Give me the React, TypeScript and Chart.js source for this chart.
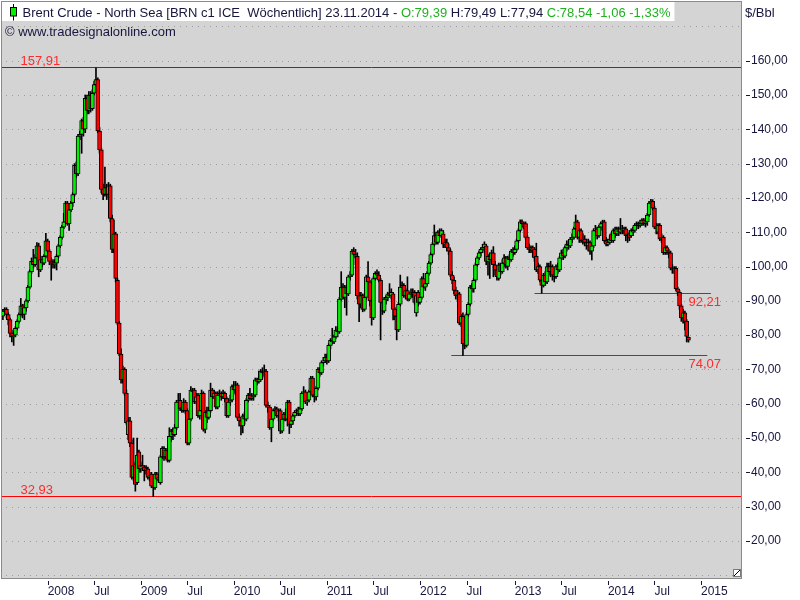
import React, { useEffect, useRef } from 'react';
import { Chart, registerables } from 'chart.js';

Chart.register(...registerables);

// ---------------- data ----------------
const instrument = 'Brent Crude - North Sea [BRN c1 ICE  Wöchentlich]';
const asOfDate = '23.11.2014';
const unitLabel = '$/Bbl';
const sourceLabel = '© www.tradesignalonline.com';

// weekly bars, first bar = week of 09.07.2007
const opens = [
  85.5, 87.0, 87.5, 86.0, 84.5, 80.5, 79.5, 80.0, 82.0, 84.0,
  86.0, 88.5, 86.0, 88.0, 90.0, 94.0, 98.5, 101.5, 100.5, 102.5,
  106.0, 99.0, 102.0, 101.0, 103.0, 107.5, 104.5, 101.5, 101.0, 100.5,
  101.0, 103.0, 106.0, 108.5, 111.5, 113.0, 118.5, 112.5, 116.5, 118.5,
  121.0, 129.5, 127.0, 138.0, 138.5, 142.5, 140.0, 149.0, 145.5, 150.0,
  146.0, 150.5, 153.0, 154.5, 139.5, 134.0, 122.5, 121.0, 123.0, 121.0,
  123.5, 114.0, 105.0, 109.5, 96.0, 83.5, 74.5, 67.0, 70.0, 63.0,
  51.0, 55.0, 48.5, 38.5, 42.5, 37.0, 46.0, 41.0, 42.0, 41.5,
  40.5, 41.0, 38.5, 39.5, 36.0, 35.5, 39.5, 38.0, 37.0, 44.5,
  47.0, 44.5, 46.5, 43.5, 50.5, 52.0, 51.0, 53.0, 60.5, 61.0,
  58.5, 58.0, 60.5, 58.0, 48.5, 55.5, 64.0, 64.0, 60.5, 62.5,
  56.5, 58.0, 63.0, 52.5, 57.5, 56.0, 58.0, 64.0, 62.0, 63.0,
  59.0, 62.5, 63.0, 62.0, 63.0, 61.5, 56.5, 60.5, 61.0, 65.0,
  64.0, 65.5, 56.0, 55.0, 53.5, 56.5, 55.5, 61.0, 62.5, 61.5,
  62.0, 62.5, 67.0, 66.5, 67.0, 69.5, 69.0, 69.5, 59.5, 59.0,
  53.0, 55.5, 58.0, 58.5, 56.5, 58.0, 52.0, 55.5, 57.0, 55.5,
  60.5, 54.0, 55.0, 56.5, 57.5, 58.0, 57.0, 58.5, 63.0, 63.5,
  60.5, 61.0, 63.5, 67.5, 62.5, 62.0, 64.5, 70.0, 69.0, 72.0,
  72.5, 73.5, 72.5, 77.0, 78.5, 78.0, 79.5, 81.5, 81.0, 90.5,
  94.0, 91.0, 94.0, 92.0, 97.0, 97.5, 104.5, 103.5, 103.0, 91.5,
  89.0, 91.5, 87.5, 91.0, 97.0, 95.5, 90.0, 85.0, 96.5, 98.0,
  97.5, 96.0, 89.5, 87.0, 90.5, 91.0, 92.0, 91.5, 92.0, 87.5,
  85.5, 81.5, 89.0, 94.0, 94.5, 91.5, 93.0, 90.5, 92.0, 92.5,
  92.5, 86.5, 92.5, 89.5, 91.0, 96.5, 94.0, 95.0, 98.0, 101.0,
  103.5, 106.5, 109.0, 107.0, 110.0, 109.0, 109.5, 106.5, 107.0, 105.5,
  104.5, 97.5, 96.0, 93.0, 91.5, 92.0, 83.5, 85.5, 77.5, 77.0,
  86.0, 89.0, 94.0, 93.5, 96.0, 100.5, 102.5, 104.0, 105.0, 105.5,
  106.0, 101.5, 103.0, 102.0, 104.0, 100.5, 99.0, 96.5, 100.5, 98.5,
  101.0, 102.5, 100.0, 102.5, 102.0, 104.5, 104.0, 105.0, 107.5, 110.5,
  113.0, 112.5, 112.5, 108.5, 105.5, 105.0, 105.5, 105.0, 103.0, 99.0,
  100.0, 96.0, 94.5, 97.5, 95.5, 100.0, 98.5, 100.0, 97.5, 97.0,
  100.0, 99.0, 102.5, 104.0, 103.0, 105.5, 106.5, 106.0, 108.0, 108.5,
  111.0, 113.0, 108.5, 110.5, 107.5, 108.0, 107.0, 106.0, 107.0, 104.5,
  106.0, 110.5, 111.0, 109.0, 111.5, 112.5, 113.0, 107.5, 106.5, 107.0,
  109.5, 107.5, 110.5, 109.5, 111.0, 110.0, 111.0, 110.5, 111.0, 109.0,
  109.5, 109.0, 110.5, 110.5, 112.0, 112.5, 112.0, 112.5, 113.5, 112.5,
  113.0, 115.0, 118.5, 119.0, 117.0, 111.5, 110.0, 112.0, 108.0, 108.5,
  104.0, 105.5, 104.5, 104.0, 99.5, 99.0, 99.5, 93.5, 92.5, 88.5,
  85.0, 86.5, 84.0, 79.39,
];
const highs = [
  87.5, 88.0, 88.0, 86.5, 85.0, 81.5, 81.0, 82.5, 84.5, 86.5,
  90.7, 89.0, 89.0, 90.5, 94.5, 99.0, 102.5, 105.0, 103.5, 107.0,
  106.8, 103.0, 103.0, 103.5, 109.7, 108.0, 105.0, 102.5, 102.0, 102.0,
  103.5, 106.5, 109.0, 112.0, 115.5, 119.0, 119.0, 117.0, 119.0, 121.5,
  130.0, 130.5, 138.5, 139.5, 143.0, 143.5, 150.0, 150.0, 151.0, 151.0,
  151.5, 154.0, 157.91, 155.0, 140.5, 134.5, 124.0, 129.0, 124.0, 124.5,
  124.0, 115.0, 113.5, 110.0, 96.5, 84.0, 76.0, 71.0, 70.5, 64.0,
  56.0, 56.0, 49.5, 50.0, 43.0, 50.0, 46.5, 43.0, 45.0, 42.0,
  42.0, 41.5, 40.0, 40.0, 37.5, 40.0, 40.0, 39.5, 45.0, 47.5,
  47.5, 47.0, 47.0, 53.0, 52.5, 53.0, 54.0, 61.0, 63.0, 63.0,
  60.0, 61.5, 61.0, 58.5, 56.5, 65.0, 64.5, 64.5, 63.0, 63.0,
  59.0, 64.0, 63.5, 58.0, 59.0, 59.0, 66.0, 64.5, 64.0, 63.5,
  63.5, 64.0, 63.5, 64.0, 63.5, 62.0, 61.5, 62.5, 65.5, 66.5,
  66.5, 66.0, 57.0, 56.0, 57.0, 57.5, 61.5, 63.0, 64.5, 63.0,
  63.0, 67.5, 67.5, 69.5, 70.0, 70.5, 71.3, 70.0, 60.5, 59.5,
  56.0, 58.5, 59.2, 59.0, 58.5, 58.5, 56.0, 57.5, 58.5, 61.0,
  61.0, 56.0, 57.0, 58.0, 58.5, 59.0, 59.0, 63.5, 65.0, 64.0,
  62.5, 64.0, 68.0, 68.0, 64.0, 65.0, 70.5, 70.5, 72.5, 73.5,
  74.5, 74.5, 77.5, 79.0, 82.0, 80.0, 82.5, 82.5, 91.0, 98.5,
  95.0, 94.5, 94.5, 97.5, 98.5, 105.0, 105.5, 105.0, 104.0, 92.5,
  92.5, 92.0, 92.0, 97.5, 101.4, 96.0, 91.0, 97.0, 98.5, 99.0,
  98.5, 96.5, 90.0, 91.0, 91.5, 92.5, 95.0, 93.5, 92.5, 88.0,
  86.0, 89.5, 97.5, 95.5, 95.0, 93.5, 97.0, 92.5, 93.5, 93.5,
  93.0, 92.0, 93.0, 92.0, 97.0, 98.0, 95.5, 98.5, 101.5, 104.0,
  107.0, 112.1, 110.0, 110.5, 111.0, 111.0, 110.5, 108.0, 108.0, 106.5,
  105.0, 98.5, 97.0, 94.0, 93.0, 92.5, 86.0, 86.5, 78.5, 86.5,
  89.5, 94.5, 95.0, 96.5, 101.0, 103.0, 104.5, 105.5, 106.5, 107.2,
  106.5, 103.5, 104.0, 104.8, 105.8, 101.5, 100.0, 101.0, 101.0, 102.0,
  103.5, 103.0, 103.0, 103.5, 105.0, 105.5, 106.0, 108.0, 111.0, 113.6,
  113.6, 113.0, 113.0, 109.0, 106.5, 106.0, 106.0, 105.5, 106.8, 101.0,
  100.5, 97.0, 98.0, 98.5, 101.0, 101.0, 101.5, 100.5, 99.5, 100.5,
  101.0, 103.0, 104.8, 105.0, 106.0, 107.5, 107.5, 108.5, 109.5, 111.5,
  115.0, 113.5, 111.0, 111.0, 109.5, 109.0, 108.0, 108.0, 107.5, 106.5,
  111.0, 112.0, 111.5, 112.0, 113.0, 113.5, 113.5, 108.5, 108.0, 109.0,
  110.0, 111.0, 111.5, 111.5, 111.5, 114.0, 112.0, 111.5, 111.5, 110.0,
  110.5, 111.0, 111.5, 112.5, 113.0, 113.0, 113.5, 114.0, 114.0, 114.0,
  115.5, 119.0, 119.6, 119.5, 117.5, 112.5, 112.5, 112.5, 109.5, 109.0,
  106.0, 106.0, 105.0, 104.5, 100.5, 100.0, 100.0, 94.0, 93.0, 89.0,
  87.5, 87.0, 84.5, 79.49,
];
const lows = [
  84.5, 86.0, 85.0, 83.0, 79.5, 78.0, 77.0, 79.5, 81.5, 83.5,
  85.5, 85.0, 84.5, 87.0, 89.5, 93.5, 98.0, 99.5, 100.0, 102.0,
  97.0, 98.5, 100.0, 100.5, 102.5, 103.5, 100.5, 96.0, 99.5, 99.5,
  99.0, 102.5, 105.5, 108.0, 111.0, 112.5, 112.0, 110.5, 116.0, 117.5,
  120.5, 126.0, 126.5, 137.0, 133.0, 138.0, 139.0, 144.5, 144.5, 145.0,
  145.5, 150.0, 151.5, 139.0, 133.0, 121.5, 119.5, 120.5, 119.5, 120.0,
  113.0, 104.0, 104.0, 95.5, 83.0, 74.0, 66.0, 66.0, 62.5, 54.0,
  49.5, 47.5, 38.0, 37.5, 34.5, 36.5, 40.0, 40.0, 40.5, 37.5,
  39.5, 38.0, 37.5, 35.5, 32.93, 35.0, 37.5, 37.0, 36.5, 44.0,
  43.5, 44.0, 43.0, 43.0, 49.0, 49.5, 50.5, 52.5, 59.0, 58.0,
  57.5, 57.5, 57.0, 48.0, 48.0, 55.0, 62.0, 60.0, 60.0, 56.0,
  55.5, 57.5, 52.0, 51.5, 54.5, 55.5, 57.5, 61.5, 61.5, 58.5,
  58.5, 62.0, 61.0, 61.5, 60.5, 56.0, 56.0, 59.5, 60.5, 63.0,
  62.5, 55.5, 53.5, 50.9, 51.5, 54.0, 55.0, 60.5, 61.0, 61.0,
  61.0, 62.0, 65.5, 66.0, 66.5, 67.5, 68.0, 59.0, 57.5, 52.5,
  48.9, 55.0, 57.0, 56.0, 55.0, 51.3, 51.5, 55.0, 55.0, 53.5,
  51.3, 53.0, 54.0, 56.0, 56.5, 56.5, 56.5, 58.0, 62.0, 60.0,
  59.5, 60.5, 62.5, 62.0, 60.5, 61.0, 64.0, 68.0, 68.5, 71.0,
  72.0, 71.5, 72.0, 76.0, 77.5, 77.5, 79.0, 79.5, 80.5, 90.0,
  90.5, 88.0, 85.8, 91.5, 96.0, 97.0, 102.5, 100.5, 90.5, 83.9,
  88.0, 86.8, 87.0, 90.5, 95.0, 88.5, 82.9, 84.5, 96.0, 96.5,
  95.5, 78.6, 86.0, 86.5, 89.0, 90.0, 91.0, 90.5, 84.4, 84.5,
  78.6, 81.0, 88.5, 93.0, 91.0, 90.5, 90.0, 90.0, 91.0, 91.0,
  89.0, 85.5, 88.5, 89.0, 90.5, 93.5, 93.0, 94.5, 97.5, 100.5,
  103.0, 106.0, 106.5, 106.5, 108.5, 108.5, 105.5, 105.5, 104.5, 103.5,
  97.0, 95.0, 92.0, 90.5, 90.0, 83.0, 82.5, 74.07, 76.0, 76.5,
  85.5, 88.5, 92.5, 92.5, 95.5, 100.0, 102.0, 103.0, 104.0, 104.5,
  100.5, 97.5, 96.5, 101.0, 97.0, 97.5, 96.0, 96.0, 97.5, 98.0,
  100.0, 99.5, 99.0, 101.0, 101.5, 103.0, 103.5, 104.5, 107.0, 110.0,
  111.5, 111.0, 108.0, 105.0, 104.0, 104.0, 102.8, 101.5, 98.5, 98.0,
  95.5, 92.21, 94.0, 94.5, 95.0, 97.5, 97.0, 96.0, 95.5, 96.5,
  98.0, 98.5, 102.0, 102.0, 102.5, 104.5, 105.0, 105.5, 107.0, 108.0,
  110.5, 108.0, 107.0, 107.0, 106.5, 106.0, 105.0, 104.5, 103.5, 101.9,
  105.5, 109.5, 108.0, 108.5, 110.5, 109.0, 107.0, 106.0, 106.0, 106.5,
  107.0, 107.0, 108.5, 109.0, 109.0, 109.5, 109.5, 109.5, 107.5, 107.0,
  107.5, 108.5, 109.0, 110.0, 111.0, 111.0, 111.5, 112.0, 112.0, 111.5,
  112.0, 114.5, 117.5, 116.5, 111.0, 109.5, 109.5, 107.5, 107.0, 103.5,
  103.5, 103.5, 102.5, 99.0, 98.0, 98.0, 93.0, 91.5, 87.5, 84.0,
  83.5, 81.5, 78.0, 77.94,
];
const closes = [
  87.0, 87.5, 86.0, 84.5, 80.5, 79.5, 80.0, 82.0, 84.0, 86.0,
  88.5, 86.0, 88.0, 90.0, 94.0, 98.5, 101.5, 100.5, 102.5, 106.0,
  99.0, 102.0, 101.0, 103.0, 107.5, 104.5, 101.5, 101.0, 100.5, 101.0,
  103.0, 106.0, 108.5, 111.5, 113.0, 118.5, 112.5, 116.5, 118.5, 121.0,
  129.5, 127.0, 138.0, 138.5, 142.5, 140.0, 149.0, 145.5, 150.0, 146.0,
  150.5, 153.0, 154.5, 139.5, 134.0, 122.5, 121.0, 123.0, 121.0, 123.5,
  114.0, 105.0, 109.5, 96.5, 83.5, 74.5, 67.0, 70.0, 63.0, 54.5,
  55.0, 48.5, 38.5, 42.0, 36.5, 45.0, 41.0, 42.0, 41.5, 40.5,
  41.0, 38.5, 39.0, 36.0, 35.5, 39.5, 38.0, 38.5, 44.5, 47.0,
  44.5, 46.5, 43.5, 50.5, 52.0, 51.0, 53.0, 60.5, 61.0, 58.5,
  59.0, 60.5, 58.0, 48.5, 55.5, 64.0, 63.5, 60.5, 62.0, 56.5,
  58.0, 63.0, 52.5, 57.5, 56.0, 58.0, 64.0, 62.0, 63.0, 59.0,
  62.5, 63.0, 62.0, 63.0, 61.5, 56.5, 60.5, 61.0, 65.0, 64.0,
  65.5, 56.0, 55.0, 53.5, 56.5, 55.5, 61.0, 62.5, 61.5, 62.0,
  62.5, 67.0, 66.5, 67.0, 69.5, 69.0, 69.5, 59.5, 59.0, 53.0,
  55.5, 58.0, 58.5, 56.5, 58.0, 52.0, 55.5, 57.0, 55.5, 60.5,
  54.0, 55.0, 56.5, 57.5, 58.0, 57.0, 58.5, 63.0, 63.5, 60.5,
  61.0, 63.5, 67.5, 62.5, 62.0, 64.5, 70.0, 69.0, 72.0, 72.5,
  73.5, 72.5, 77.0, 78.5, 78.0, 79.5, 81.5, 81.0, 90.5, 94.0,
  91.0, 94.0, 92.0, 97.0, 97.5, 104.5, 103.5, 103.0, 91.5, 89.0,
  91.5, 87.5, 91.0, 97.0, 95.5, 90.0, 85.0, 96.5, 98.0, 97.5,
  96.0, 89.5, 87.0, 90.5, 91.0, 92.0, 91.5, 92.5, 87.5, 85.5,
  81.5, 89.0, 94.0, 94.5, 91.5, 93.0, 90.5, 92.0, 92.5, 92.0,
  89.5, 91.5, 89.5, 91.0, 96.5, 94.0, 95.0, 98.0, 101.0, 103.5,
  106.5, 109.0, 107.0, 110.0, 109.0, 110.5, 106.5, 107.0, 105.5, 104.5,
  97.5, 96.0, 93.0, 91.5, 92.0, 83.5, 85.5, 77.5, 77.0, 86.0,
  89.0, 94.0, 93.5, 96.0, 100.5, 102.5, 104.0, 105.0, 105.5, 106.5,
  101.5, 103.0, 102.0, 104.0, 100.5, 99.0, 97.0, 100.5, 98.5, 101.0,
  102.5, 100.5, 102.5, 102.0, 104.5, 104.0, 105.0, 107.5, 110.5, 113.0,
  112.5, 111.5, 108.5, 105.5, 105.0, 105.5, 104.5, 102.5, 99.0, 100.0,
  96.0, 94.5, 97.5, 95.5, 100.0, 98.5, 100.0, 97.5, 97.0, 100.0,
  99.0, 102.5, 104.0, 103.0, 105.5, 106.5, 106.0, 108.0, 108.5, 111.0,
  113.0, 108.5, 110.5, 107.5, 108.0, 107.0, 106.0, 107.0, 104.5, 106.0,
  110.5, 111.0, 109.0, 111.5, 112.5, 113.0, 107.5, 106.5, 107.0, 108.0,
  107.5, 110.5, 109.5, 111.0, 110.0, 111.0, 110.5, 111.0, 109.0, 109.5,
  108.5, 110.5, 110.0, 112.0, 112.5, 112.0, 112.5, 113.5, 112.5, 113.0,
  115.0, 118.5, 119.0, 117.0, 111.5, 111.0, 112.0, 108.0, 108.5, 104.0,
  105.5, 104.5, 104.0, 99.5, 99.0, 99.5, 93.5, 92.5, 88.5, 85.0,
  86.5, 84.0, 79.6, 78.54,
];

// time axis: bar index of the first week of each half-year
const timeTickIndex = [25, 51, 77, 103, 129, 155, 181, 207, 233, 259, 286, 312, 338, 364, 390];
const timeTickLabels = ['2008', 'Jul', '2009', 'Jul', '2010', 'Jul', '2011', 'Jul', '2012', 'Jul', '2013', 'Jul', '2014', 'Jul', '2015'];

// price axis
const priceTicks = [20, 30, 40, 50, 60, 70, 80, 90, 100, 110, 120, 130, 140, 150, 160];
const gridLevels = [10, 20, 30, 40, 50, 60, 70, 80, 90, 100, 110, 120, 130, 140, 150, 160, 170];

// horizontal level lines (value, start bar, end bar; null = full width)
const levelValues = [157.91, 32.93, 92.21, 74.07];
const levelStartBar: (number | null)[] = [null, null, 297, 250.5];
const levelEndBar: (number | null)[] = [null, null, 395.5, 393.5];

// ---------------- style ----------------
const FONT = "'Liberation Sans', Arial, Helvetica, sans-serif";
const NAVY = '#16163e';
const TXT_GREEN = '#1fb11f';
const TXT_RED = '#ff2b2b';
const PLOT_BG = '#d4d4d4';
const GRID_DOT = '#9c9c9c';
const FRAME = '#8a8a8a';
const UP = '#00f000';
const DOWN = '#ff0000';
const LEVEL_COLORS = ['#d40000', '#ff0000', '#ff0000', '#ff0000'];
const LEVEL_LABEL_ABOVE = [true, true, false, false];
const X_MIN = -0.5;
const X_MAX = 412.9;
const Y_MIN = 9.2;
const Y_MAX = 177.1;

const fmt2 = (v: number) => v.toFixed(2).replace('.', ',');

const decorPlugin = {
  id: 'decor',
  beforeDraw(chart: any) {
    const { ctx, chartArea: a, width, height } = chart;
    ctx.save();
    ctx.fillStyle = '#ffffff';
    ctx.fillRect(0, 0, width, height);
    ctx.fillStyle = PLOT_BG;
    ctx.fillRect(a.left, a.top, a.right - a.left, a.bottom - a.top);
    const ys = chart.scales.y;
    ctx.strokeStyle = GRID_DOT;
    ctx.lineWidth = 1;
    ctx.setLineDash([1, 5]);
    for (const v of gridLevels) {
      const y = Math.round(ys.getPixelForValue(v)) + 0.5;
      if (y < a.top || y > a.bottom) continue;
      ctx.beginPath();
      ctx.moveTo(a.left + 4, y);
      ctx.lineTo(a.right - 1, y);
      ctx.stroke();
    }
    ctx.restore();
  },
  beforeDatasetsDraw(chart: any) {
    const { ctx, chartArea: a } = chart;
    const xs = chart.scales.x;
    const ys = chart.scales.y;
    ctx.save();
    ctx.lineWidth = 1;
    ctx.setLineDash([]);
    levelValues.forEach((v, k) => {
      const y = Math.floor(ys.getPixelForValue(v)) + 0.5;
      const s = levelStartBar[k];
      const e = levelEndBar[k];
      const x0 = s == null ? a.left : xs.getPixelForValue(s);
      const x1 = e == null ? a.right - 1 : xs.getPixelForValue(e);
      ctx.strokeStyle = LEVEL_COLORS[k];
      ctx.beginPath();
      ctx.moveTo(x0, y);
      ctx.lineTo(x1, y);
      ctx.stroke();
    });
    ctx.restore();
  },
  afterDraw(chart: any) {
    const { ctx, chartArea: a } = chart;
    const xs = chart.scales.x;
    const ys = chart.scales.y;
    ctx.save();
    // frame
    ctx.strokeStyle = FRAME;
    ctx.lineWidth = 1;
    ctx.beginPath();
    ctx.moveTo(1, 1.5); ctx.lineTo(a.right, 1.5);
    ctx.moveTo(1.5, 1); ctx.lineTo(1.5, a.bottom + 1);
    ctx.moveTo(a.right - 0.5, 1); ctx.lineTo(a.right - 0.5, a.bottom + 1);
    ctx.moveTo(1, a.bottom + 0.5); ctx.lineTo(a.right, a.bottom + 0.5);
    ctx.stroke();

    // axis tick marks
    ctx.strokeStyle = NAVY;
    ctx.beginPath();
    for (const v of priceTicks) {
      const y = Math.round(ys.getPixelForValue(v)) + 0.5;
      ctx.moveTo(a.right + 4, y); ctx.lineTo(a.right + 8, y);
    }
    for (const v of timeTickIndex) {
      const x = Math.round(xs.getPixelForValue(v)) + 0.5;
      ctx.moveTo(x, a.bottom + 3); ctx.lineTo(x, a.bottom + 7);
    }
    ctx.stroke();

    // resize corner
    ctx.fillStyle = '#ffffff';
    ctx.fillRect(a.right - 9, a.bottom - 9, 8, 8);
    ctx.strokeStyle = '#7a7a7a';
    ctx.strokeRect(a.right - 8.5, a.bottom - 8.5, 7, 7);
    ctx.strokeStyle = '#000000';
    ctx.beginPath();
    ctx.moveTo(a.right - 8, a.bottom - 2); ctx.lineTo(a.right - 2, a.bottom - 8);
    ctx.stroke();

    // level labels
    ctx.font = `13px ${FONT}`;
    ctx.textAlign = 'left';
    ctx.textBaseline = 'alphabetic';
    ctx.fillStyle = TXT_RED;
    const lastX = xs.getPixelForValue(closes.length - 1);
    levelValues.forEach((v, k) => {
      const y = ys.getPixelForValue(v);
      if (LEVEL_LABEL_ABOVE[k]) ctx.fillText(fmt2(v), a.left + 18.5, y - 3);
      else ctx.fillText(fmt2(v), lastX, y + 13);
    });

    // header
    const n = closes.length - 1;
    const chg = closes[n] - closes[n - 1];
    const pct = (chg / closes[n - 1]) * 100;
    const segs: [string, string][] = [
      [`${instrument} ${asOfDate} - `, NAVY],
      [`O:${fmt2(opens[n])}`, TXT_GREEN],
      [` H:${fmt2(highs[n])} L:${fmt2(lows[n])} `, NAVY],
      [`C:${fmt2(closes[n])} ${fmt2(chg)} ${fmt2(pct)}%`, TXT_GREEN],
    ];
    ctx.font = `13px ${FONT}`;
    let total = 0;
    for (const [t] of segs) total += ctx.measureText(t).width;
    const tx0 = 22.5;
    ctx.fillStyle = '#ffffff';
    ctx.fillRect(2, 2, tx0 + total + 4 - 2, 19);
    // candle icon
    ctx.strokeStyle = '#000000';
    ctx.beginPath();
    ctx.moveTo(13.5, 4); ctx.lineTo(13.5, 20.5);
    ctx.stroke();
    ctx.fillStyle = UP;
    ctx.fillRect(10.5, 7.5, 6, 8.5);
    ctx.strokeRect(10.5, 7.5, 6, 8.5);
    let x = tx0;
    for (const [t, col] of segs) {
      ctx.fillStyle = col;
      ctx.fillText(t, x, 17);
      x += ctx.measureText(t).width;
    }
    ctx.fillStyle = NAVY;
    ctx.fillText(sourceLabel, 5, 36);
    ctx.fillText(unitLabel, a.right + 3, 17);
    ctx.restore();
  },
};

export default function App() {
  const ref = useRef<HTMLCanvasElement>(null);
  useEffect(() => {
    const idx = closes.map((_, i) => i);
    const bodyData = idx.map((i) => ({ x: i, y: [opens[i], closes[i]] }));
    const wickData = idx.map((i) => ({ x: i, y: [lows[i], highs[i]] }));
    const bodyColors = idx.map((i) => (closes[i] >= opens[i] ? UP : DOWN));
    Chart.defaults.font.family = FONT;
    const chart = new Chart(ref.current as HTMLCanvasElement, {
      type: 'bar',
      data: {
        datasets: [
          {
            data: bodyData as any,
            backgroundColor: bodyColors,
            borderColor: '#000000',
            borderWidth: 1,
            borderSkipped: false,
            barThickness: 4,
            grouped: false,
            order: 0,
          } as any,
          {
            data: wickData as any,
            backgroundColor: '#000000',
            borderWidth: 0,
            barThickness: 1,
            grouped: false,
            order: 1,
          } as any,
        ],
      },
      options: {
        animation: false,
        responsive: true,
        maintainAspectRatio: false,
        events: [],
        layout: { padding: { left: 2, top: 2, right: 0, bottom: 0 } },
        plugins: { legend: { display: false }, tooltip: { enabled: false }, title: { display: false } },
        scales: {
          x: {
            type: 'linear',
            min: X_MIN,
            max: X_MAX,
            offset: false,
            grid: { display: false, drawTicks: false, offset: false },
            border: { display: false },
            afterBuildTicks: (s: any) => {
              s.ticks = timeTickIndex.map((v) => ({ value: v }));
            },
            afterFit: (s: any) => {
              s.height = 22;
              s.paddingLeft = 0; s.paddingRight = 0; s.paddingTop = 0; s.paddingBottom = 0;
            },
            ticks: {
              autoSkip: false,
              maxRotation: 0,
              minRotation: 0,
              align: 'start',
              padding: 6,
              color: NAVY,
              font: { family: FONT, size: 12 },
              callback: (_v: any, i: number) => timeTickLabels[i],
            },
          } as any,
          y: {
            type: 'linear',
            position: 'right',
            min: Y_MIN,
            max: Y_MAX,
            grid: { display: false, drawTicks: false },
            border: { display: false },
            afterBuildTicks: (s: any) => {
              s.ticks = priceTicks.map((v) => ({ value: v }));
            },
            afterFit: (s: any) => {
              s.width = 58;
              s.paddingLeft = 0; s.paddingRight = 0; s.paddingTop = 0; s.paddingBottom = 0;
            },
            ticks: {
              padding: 9,
              color: NAVY,
              font: { family: FONT, size: 12 },
              callback: (v: any) => fmt2(Number(v)),
            },
          } as any,
        },
      },
      plugins: [decorPlugin],
    });
    return () => chart.destroy();
  }, []);
  return (
    <div style={{ position: 'fixed', left: 0, top: 0, width: 800, height: 600, background: '#ffffff' }}>
      <canvas ref={ref} />
    </div>
  );
}
